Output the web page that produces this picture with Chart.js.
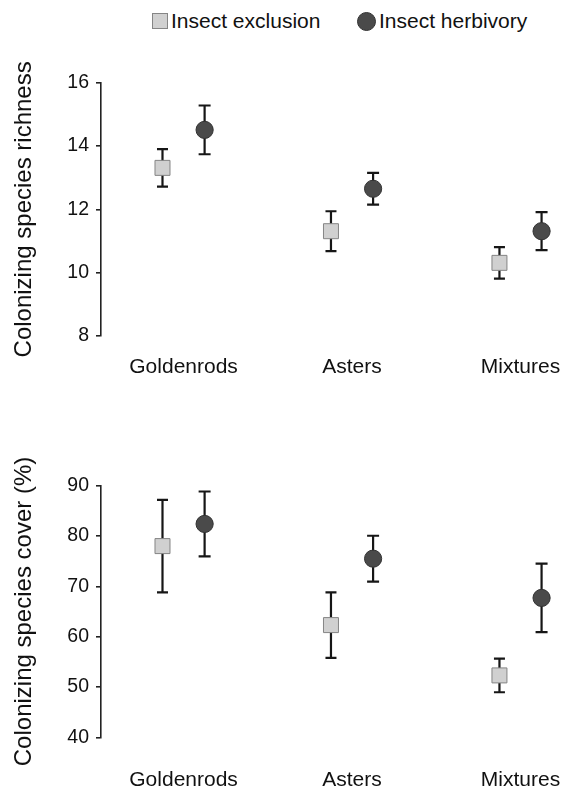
<!DOCTYPE html>
<html>
<head>
<meta charset="utf-8">
<script src="https://cdn.jsdelivr.net/npm/chart.js@4.4.1/dist/chart.umd.min.js"></script>
<style>
  body { margin: 0; background: #fff; font-family: 'Liberation Sans', Arial, sans-serif; color: #111; }
  #wrap { position: relative; width: 566px; height: 788px; overflow: hidden; }
  .box { position: absolute; left: 0; width: 566px; }
  .leg { position: absolute; font-size: 21px; line-height: 24px; top: 9px; white-space: nowrap; }
  .sq { position: absolute; left: 152px; top: 13px; width: 14px; height: 14px; background: #d0d0d0; border: 1px solid #858585; }
  .ci { position: absolute; left: 357px; top: 12px; width: 17px; height: 17px; border-radius: 50%; background: #4a4a4a; border: 1px solid #333; }
</style>
</head>
<body>
<div id="wrap">
  <div class="sq"></div><span class="leg" style="left:171px">Insect exclusion</span>
  <div class="ci"></div><span class="leg" style="left:379px">Insect herbivory</span>
  <div class="box" style="top:0;height:396px"><canvas id="chartRichness" width="566" height="396"></canvas></div>
  <div class="box" style="top:396px;height:392px"><canvas id="chartCover" width="566" height="392"></canvas></div>
</div>
<script>
const categories = ['Goldenrods', 'Asters', 'Mixtures'];

// species richness
const richnessExclusion = [13.31, 11.31, 10.31];
const richnessExclusionErr = [0.59, 0.63, 0.50];
const richnessHerbivory = [14.51, 12.65, 11.31];
const richnessHerbivoryErr = [0.77, 0.50, 0.60];
const richnessTicks = [8, 10, 12, 14, 16];

// species cover (%)
const coverExclusion = [78.0, 62.3, 52.3];
const coverExclusionErr = [9.2, 6.5, 3.35];
const coverHerbivory = [82.4, 75.5, 67.7];
const coverHerbivoryErr = [6.45, 4.55, 6.8];
const coverTicks = [40, 50, 60, 70, 80, 90];

const DODGE = 0.125;
const FONT = "'Liberation Sans', Arial, sans-serif";

const errorBars = {
  id: 'errorBars',
  beforeDatasetsDraw(chart) {
    const { ctx, scales: { x, y } } = chart;
    ctx.save();
    ctx.strokeStyle = '#161616';
    ctx.lineWidth = 2.2;
    chart.data.datasets.forEach(ds => {
      ds.data.forEach((p, i) => {
        const e = ds.errors[i];
        const px = x.getPixelForValue(p.x);
        const top = y.getPixelForValue(p.y + e);
        const bot = y.getPixelForValue(p.y - e);
        const cap = ds.capHalf;
        ctx.beginPath();
        ctx.moveTo(px, top); ctx.lineTo(px, bot);
        ctx.moveTo(px - cap, top); ctx.lineTo(px + cap, top);
        ctx.moveTo(px - cap, bot); ctx.lineTo(px + cap, bot);
        ctx.stroke();
      });
    });
    ctx.restore();
  }
};

function points(values, shift) {
  return values.map((v, i) => ({ x: i + shift, y: v }));
}

function makeChart(id, opts) {
  const ctx = document.getElementById(id).getContext('2d');
  return new Chart(ctx, {
    type: 'scatter',
    data: {
      datasets: [
        {
          label: 'Insect exclusion',
          data: points(opts.excl, -DODGE),
          errors: opts.exclErr,
          capHalf: 5.5,
          pointStyle: 'rect',
          radius: 10.6,
          backgroundColor: '#d0d0d0',
          borderColor: '#858585',
          borderWidth: 1
        },
        {
          label: 'Insect herbivory',
          data: points(opts.herb, DODGE),
          errors: opts.herbErr,
          capHalf: 6,
          pointStyle: 'circle',
          radius: 8.6,
          backgroundColor: '#4a4a4a',
          borderColor: '#333333',
          borderWidth: 1
        }
      ]
    },
    options: {
      responsive: false,
      animation: false,
      events: [],
      layout: { autoPadding: false, padding: { top: opts.padTop, right: 0, bottom: 0, left: 0 } },
      plugins: { legend: { display: false }, tooltip: { enabled: false } },
      scales: {
        x: {
          type: 'linear',
          min: -0.49,
          max: 2.27,
          afterFit: s => { s.height = opts.xHeight; s.paddingLeft = 0; s.paddingRight = 0; },
          afterBuildTicks: s => { s.ticks = categories.map((c, i) => ({ value: i })); },
          border: { display: false },
          grid: { display: false, drawTicks: false },
          ticks: {
            padding: opts.labelPad,
            color: '#111',
            font: { family: FONT, size: 21 },
            callback: v => categories[v]
          }
        },
        y: {
          min: opts.ticks[0],
          max: opts.ticks[opts.ticks.length - 1],
          afterFit: s => { s.width = 101; },
          afterBuildTicks: s => { s.ticks = opts.ticks.map(v => ({ value: v })); },
          border: { display: true, color: '#222', width: 1.6 },
          grid: { display: true, drawOnChartArea: false, drawTicks: true, tickLength: 5, color: '#222', lineWidth: 1.6 },
          ticks: { padding: 7, color: '#111', font: { family: FONT, size: 19.5 } },
          title: {
            display: true,
            text: opts.title,
            color: '#111',
            font: { family: FONT, size: 24 },
            padding: { top: 10, bottom: 0 }
          }
        }
      }
    },
    plugins: [errorBars]
  });
}

makeChart('chartRichness', {
  excl: richnessExclusion, exclErr: richnessExclusionErr,
  herb: richnessHerbivory, herbErr: richnessHerbivoryErr,
  ticks: richnessTicks,
  title: 'Colonizing species richness',
  padTop: 82.7, xHeight: 60, labelPad: 18.5
});

makeChart('chartCover', {
  excl: coverExclusion, exclErr: coverExclusionErr,
  herb: coverHerbivory, herbErr: coverHerbivoryErr,
  ticks: coverTicks,
  title: 'Colonizing species cover (%)',
  padTop: 89.7, xHeight: 50.7, labelPad: 30
});
</script>
</body>
</html>
